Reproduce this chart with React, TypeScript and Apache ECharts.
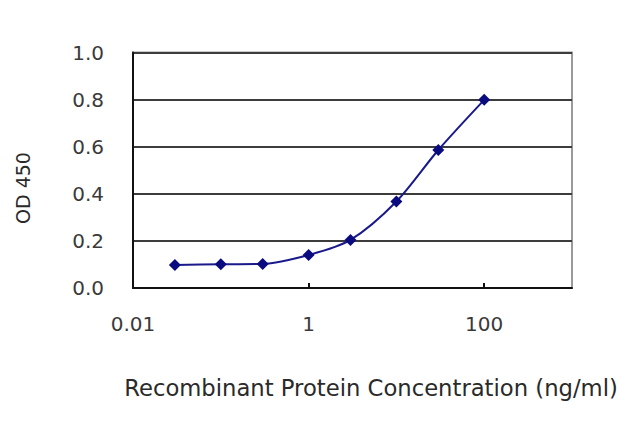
import React, { useEffect, useRef } from "react";
import * as echarts from "echarts";

const concentrations = [0.03, 0.1, 0.3, 1, 3, 10, 30, 100];
const odValues = [0.098, 0.101, 0.102, 0.14, 0.204, 0.367, 0.586, 0.799];
const yTicks = { min: 0, max: 1, interval: 0.2 };
const xRange = { min: 0.01, max: 1000 };
const xTitle = "Recombinant Protein Concentration (ng/ml)";
const yTitle = "OD 450";

export default function App() {
  const ref = useRef<HTMLDivElement>(null);
  useEffect(() => {
    if (!ref.current) return;
    const chart = echarts.init(ref.current, undefined, { renderer: "svg" });
    const font = "DejaVu Sans";
    chart.setOption({
      animation: false,
      backgroundColor: "#ffffff",
      grid: {
        left: 133,
        right: 68,
        top: 52.5,
        bottom: 139,
        show: true,
        borderColor: "#9a9a9a",
        borderWidth: 2,
      },
      xAxis: {
        type: "log",
        logBase: 100,
        min: xRange.min,
        max: xRange.max,
        axisLine: { show: true, lineStyle: { color: "#111", width: 2 } },
        axisTick: { show: true, inside: true, length: 5, lineStyle: { color: "#111", width: 2 } },
        axisLabel: {
          show: true,
          showMaxLabel: false,
          margin: 26,
          fontFamily: font,
          fontSize: 20,
          color: "#3a3a3a",
          formatter: (v: number) => String(v),
        },
        splitLine: { show: false },
        minorTick: { show: false },
      },
      yAxis: {
        type: "value",
        min: yTicks.min,
        max: yTicks.max,
        interval: yTicks.interval,
        axisLine: { show: true, lineStyle: { color: "#111", width: 2 } },
        axisTick: { show: false },
        axisLabel: {
          margin: 29,
          fontFamily: font,
          fontSize: 20,
          color: "#3a3a3a",
          formatter: (v: number) => v.toFixed(1),
        },
        splitLine: { show: true, lineStyle: { color: "#3c3c3c", width: 2 } },
      },
      graphic: [
        {
          type: "text",
          x: 371,
          y: 388,
          style: {
            text: xTitle,
            fontFamily: font,
            fontSize: 22.7,
            fill: "#2a2a2a",
            textAlign: "center",
            textVerticalAlign: "middle",
          },
        },
        {
          type: "text",
          x: 23,
          y: 188,
          rotation: Math.PI / 2,
          style: {
            text: yTitle,
            fontFamily: font,
            fontSize: 19,
            fill: "#2a2a2a",
            textAlign: "center",
            textVerticalAlign: "middle",
          },
        },
      ],
      series: [
        {
          type: "line",
          data: concentrations.map((c, i) => [c, odValues[i]]),
          smooth: 0.3,
          symbol: "diamond",
          symbolSize: 12,
          lineStyle: { color: "#1a1a8c", width: 2 },
          itemStyle: { color: "#0b0b80" },
        },
      ],
    });
    return () => chart.dispose();
  }, []);
  return (
    <div
      ref={ref}
      style={{ position: "fixed", left: 0, top: 0, width: 640, height: 427 }}
    />
  );
}
